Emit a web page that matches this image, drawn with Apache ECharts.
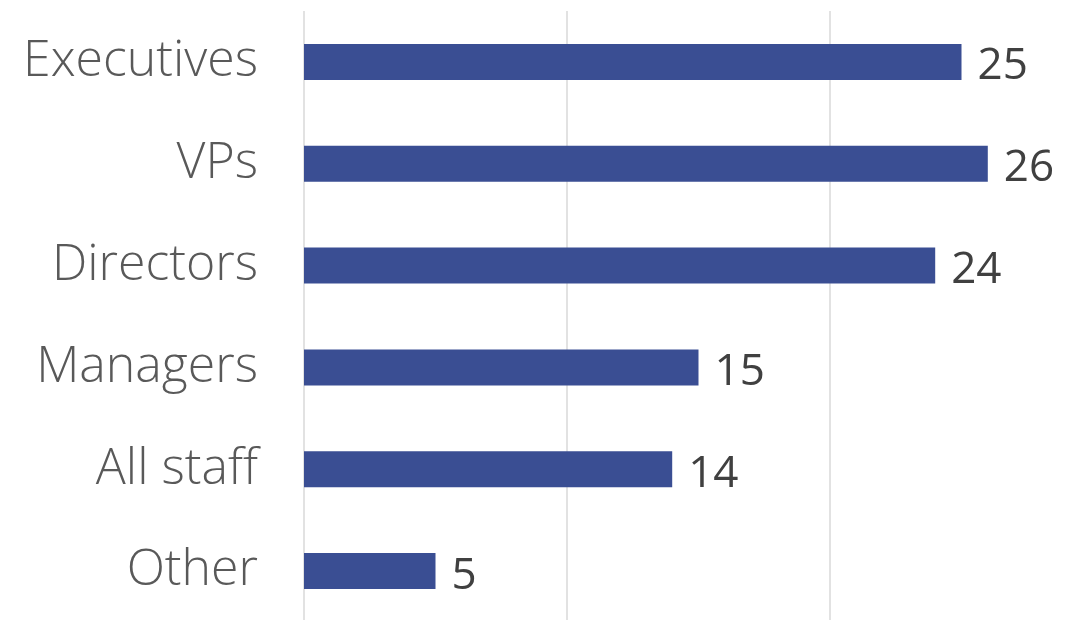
<!DOCTYPE html>
<html>
<head>
<meta charset="utf-8">
<script src="https://cdn.jsdelivr.net/npm/echarts@6/dist/echarts.min.js"></script>
<style>
  html, body { margin: 0; padding: 0; background: #fff; }
  #chart { width: 1074px; height: 620px; }
</style>
</head>
<body>
<div id="chart"></div>
<script>
// Respondent roles and counts, listed top to bottom
const categories = ['Executives', 'VPs', 'Directors', 'Managers', 'All staff', 'Other'];
const counts = [25, 26, 24, 15, 14, 5];
const axisTicks = [0, 10, 20, 30];

const chart = echarts.init(document.getElementById('chart'));
chart.setOption({
  animation: false,
  backgroundColor: '#ffffff',
  // plot area runs past the right edge so the 30 gridline falls just off-canvas
  grid: {
    left: 304, width: 789, top: 11, height: 611,
    containLabel: false,
    outerBoundsMode: 'none'
  },
  xAxis: {
    type: 'value',
    min: axisTicks[0],
    max: axisTicks[axisTicks.length - 1],
    interval: axisTicks[1] - axisTicks[0],
    axisLabel: { show: false },
    axisLine: { show: false },
    axisTick: { show: false },
    splitLine: { show: true, lineStyle: { color: '#d9d9d9', width: 1.5 } }
  },
  yAxis: {
    type: 'category',
    data: categories,
    inverse: true,
    axisLine: { show: false },
    axisTick: { show: false },
    axisLabel: {
      margin: 46,
      color: '#595959',
      fontFamily: 'Open Sans',
      fontWeight: 300,
      fontSize: 50
    }
  },
  series: [{
    type: 'bar',
    data: counts,
    barWidth: 36,
    itemStyle: { color: '#3a4e93' },
    label: {
      show: true,
      position: 'right',
      distance: 16,
      color: '#404040',
      fontFamily: 'Open Sans',
      fontWeight: 400,
      fontSize: 44,
      offset: [0, 5]
    }
  }]
});
</script>
</body>
</html>
